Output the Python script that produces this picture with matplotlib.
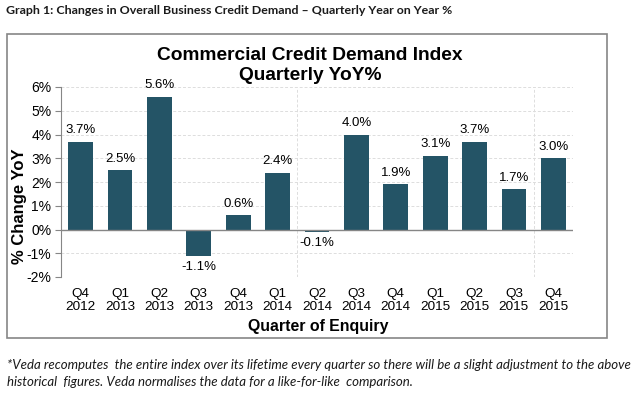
import matplotlib.pyplot as plt
from matplotlib.patches import Rectangle
from matplotlib.ticker import FuncFormatter

quarters = ['Q4\n2012', 'Q1\n2013', 'Q2\n2013', 'Q3\n2013', 'Q4\n2013', 'Q1\n2014', 'Q2\n2014',
            'Q3\n2014', 'Q4\n2014', 'Q1\n2015', 'Q2\n2015', 'Q3\n2015', 'Q4\n2015']
yoy = [3.7, 2.5, 5.6, -1.1, 0.6, 2.4, -0.1, 4.0, 1.9, 3.1, 3.7, 1.7, 3.0]
yticks = [-2, -1, 0, 1, 2, 3, 4, 5, 6]

bar_color = '#245466'
plt.rcParams['font.family'] = ['Liberation Sans', 'DejaVu Sans']

fig = plt.figure(figsize=(6.37, 3.97), dpi=100)
W, H = 637, 397

# chart border box
fig.patches.append(Rectangle((7 / W, 1 - 338 / H), 600 / W, 304 / H, transform=fig.transFigure,
                             fill=False, edgecolor='#868686', linewidth=1.2))

ax = fig.add_axes([61 / W, 1 - 277 / H, 512 / W, 190 / H])
x = range(len(yoy))
ax.bar(x, yoy, width=0.63, color=bar_color, zorder=3)

for i, v in enumerate(yoy):
    if v >= 0:
        ax.annotate(f'{v:.1f}%', (i, v), xytext=(0, 4), textcoords='offset points',
                    ha='center', va='bottom', fontsize=9.5)
    else:
        ax.annotate(f'{v:.1f}%', (i, v), xytext=(0, -4), textcoords='offset points',
                    ha='center', va='top', fontsize=9.5)

ax.set_xlim(-0.5, 12.5)
ax.set_ylim(-2, 6)
ax.set_yticks(yticks)
ax.yaxis.set_major_formatter(FuncFormatter(lambda v, p: f'{v:.0f}%'))
ax.set_xticks(list(x))
ax.set_xticklabels(quarters, fontsize=9.7, linespacing=1.05)
ax.tick_params(axis='x', length=0, pad=8)
ax.tick_params(axis='y', length=4, color='#868686', labelsize=10, pad=3)

for y in yticks:
    if y != 0:
        ax.axhline(y, color='#dddddd', linestyle=(0, (3, 2)), linewidth=0.7, zorder=1)
for xv in [5.5, 11.5]:
    ax.axvline(xv, color='#dddddd', linestyle=(0, (3, 2)), linewidth=0.7, zorder=1)
ax.axhline(0, color='#868686', linewidth=1, zorder=4)

for s in ['top', 'right', 'bottom']:
    ax.spines[s].set_visible(False)
ax.spines['left'].set_color('#868686')

fig.text(310 / W, 1 - 55 / H, 'Commercial Credit Demand Index', ha='center', va='center',
         fontsize=13.8, fontweight='bold')
fig.text(310 / W, 1 - 75 / H, 'Quarterly YoY%', ha='center', va='center',
         fontsize=13.8, fontweight='bold')
fig.text(20 / W, 1 - 206 / H, '% Change YoY', ha='center', va='center', rotation=90,
         fontsize=12, fontweight='bold')
fig.text(318 / W, 1 - 326 / H, 'Quarter of Enquiry', ha='center', va='center',
         fontsize=11.4, fontweight='bold')

fig.text(6 / W, 1 - 10 / H, 'Graph 1: Changes in Overall Business Credit Demand \u2013 Quarterly Year on Year %',
         ha='left', va='center', fontsize=8.9, fontweight='bold', family=['Lato', 'DejaVu Sans'],
         color='#1a1a1a')
fig.text(7 / W, 1 - 365 / H, '*Veda recomputes  the entire index over its lifetime every quarter so there will be a slight adjustment to the above',
         ha='left', va='center', fontsize=9.5, style='italic', family=['Lato', 'DejaVu Sans'],
         color='#1a1a1a')
fig.text(7 / W, 1 - 382 / H, 'historical  figures. Veda normalises the data for a like-for-like  comparison.',
         ha='left', va='center', fontsize=9.5, style='italic', family=['Lato', 'DejaVu Sans'],
         color='#1a1a1a')

fig.savefig('out.png', dpi=100)
